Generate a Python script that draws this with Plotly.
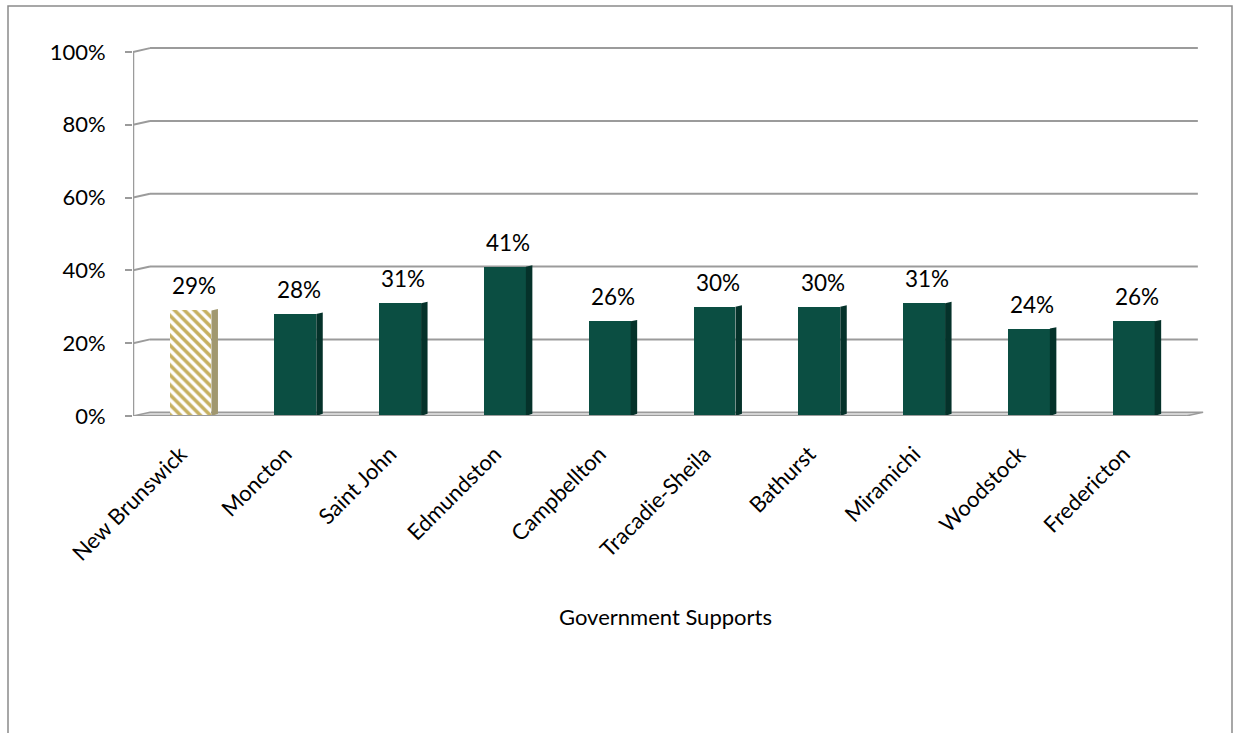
import plotly.graph_objects as go

# Share of population receiving government supports, by region
regions = ["New Brunswick", "Moncton", "Saint John", "Edmundston", "Campbellton",
           "Tracadie-Sheila", "Bathurst", "Miramichi", "Woodstock", "Fredericton"]
shares = [0.29, 0.28, 0.31, 0.41, 0.26, 0.30, 0.30, 0.31, 0.24, 0.26]
y_ticks = [0, 0.2, 0.4, 0.6, 0.8, 1.0]
y_tick_labels = ["0%", "20%", "40%", "60%", "80%", "100%"]
axis_title = "Government Supports"

# Layout geometry (pixels)
W, H = 1241, 733
PL, PR, PB = 133, 1205, 416
PX_PER_UNIT_Y = 364           # pixels for 100 %
Y_TOP = 1.03                  # head-room so the back 100 % line is not clipped
PT = PB - PX_PER_UNIT_Y * Y_TOP
UNIT = 104.8                  # pixels per category
X0 = -(190.5 - PL) / UNIT     # left edge of the x range
X1 = X0 + (PR - PL) / UNIT
BAR_W = 0.40
SIDE_W = 6.5 / UNIT
DEPTH_X = 17 / UNIT
DEPTH_Y = 3.8 / PX_PER_UNIT_Y
LABEL_SHIFT = 10 / UNIT       # rotated labels end slightly left of the bar centre

FONT = "Lato, Calibri, Carlito, sans-serif"
GREEN = "#0b4e42"
GREEN_SIDE = "#05322a"
TAN = "#c6b060"
TAN_SIDE = "#a19870"
GRID = "#9b9b9b"

xs = list(range(len(regions)))

def px(x):
    return (x - PL) / (PR - PL)

def py(y):
    return (PB - y) / (PB - PT)

fig = go.Figure()

# Front faces
fig.add_trace(go.Bar(
    x=[xs[0]], y=[shares[0]], width=BAR_W,
    marker=dict(color="white", line=dict(width=0),
                pattern=dict(shape="\\", fgcolor=TAN, bgcolor="white",
                             size=7, solidity=0.5, fillmode="replace")),
    hoverinfo="skip", showlegend=False))
fig.add_trace(go.Bar(
    x=xs[1:], y=shares[1:], width=BAR_W,
    marker=dict(color=GREEN, line=dict(width=0)),
    hoverinfo="skip", showlegend=False))

# Right-hand side faces give the bars depth
for i, (x, v) in enumerate(zip(xs, shares)):
    xr = x + BAR_W / 2
    fig.add_trace(go.Scatter(
        x=[xr, xr + SIDE_W, xr + SIDE_W, xr, xr],
        y=[0, 0.006, v + 0.004, v, 0],
        mode="lines", fill="toself",
        fillcolor=TAN_SIDE if i == 0 else GREEN_SIDE,
        line=dict(width=0), hoverinfo="skip", showlegend=False))

shapes = []
# Back-wall gridlines with the short slanted link to the axis
for t in y_ticks[1:]:
    shapes.append(dict(type="line", xref="x", yref="y", layer="below",
                       x0=X0, y0=t, x1=X0 + DEPTH_X, y1=t + DEPTH_Y,
                       line=dict(color=GRID, width=2)))
    shapes.append(dict(type="line", xref="x", yref="y", layer="below",
                       x0=X0 + DEPTH_X, y0=t + DEPTH_Y, x1=9.45 + DEPTH_X, y1=t + DEPTH_Y,
                       line=dict(color=GRID, width=2)))
# Floor
shapes.append(dict(type="path", xref="x", yref="y", layer="below",
                   path=f"M {X0},0 L 9.5,0 L {9.5 + DEPTH_X},{DEPTH_Y} L {X0 + DEPTH_X},{DEPTH_Y} Z",
                   fillcolor="#d4d4d4", line=dict(color=GRID, width=1.5)))
shapes.append(dict(type="line", xref="x", yref="y", layer="above",
                   x0=X0, y0=0, x1=9.5, y1=0,
                   line=dict(color=GRID, width=2)))
# Left axis line (0 % to 100 %)
shapes.append(dict(type="line", xref="x", yref="y", layer="above",
                   x0=X0, y0=0, x1=X0, y1=1.0,
                   line=dict(color=GRID, width=2.5)))
# Outer chart frame
shapes.append(dict(type="rect", xref="paper", yref="paper",
                   x0=px(8), y0=py(6), x1=px(1232), y1=py(760),
                   line=dict(color="#8a8a8a", width=1.5)))

annotations = []
for x, v in zip(xs, shares):
    annotations.append(dict(x=x + SIDE_W / 2, y=v, xref="x", yref="y",
                            text=f"{round(v * 100)}%", showarrow=False,
                            yanchor="bottom", yshift=9,
                            font=dict(family=FONT, size=22.5, color="black")))
annotations.append(dict(x=px(665), y=py(616), xref="paper", yref="paper",
                        xanchor="center", yanchor="middle",
                        text=axis_title, showarrow=False,
                        font=dict(family=FONT, size=22, color="black")))

fig.update_layout(
    width=W, height=H,
    margin=dict(l=PL, r=W - PR, t=PT, b=H - PB, pad=0),
    paper_bgcolor="white", plot_bgcolor="white",
    bargap=0, barmode="overlay",
    shapes=shapes, annotations=annotations,
    font=dict(family=FONT, size=22, color="black"),
    xaxis=dict(range=[X0, X1], tickmode="array",
               tickvals=[x - LABEL_SHIFT for x in xs], ticktext=regions,
               tickangle=-45, showgrid=False, zeroline=False, showline=False,
               ticks="", ticklabelstandoff=20, tickfont=dict(family=FONT, size=22),
               fixedrange=True),
    yaxis=dict(range=[0, Y_TOP], tickmode="array", tickvals=y_ticks, ticktext=y_tick_labels,
               showgrid=False, zeroline=False, showline=False,
               ticks="outside", ticklen=7, tickwidth=2, tickcolor=GRID,
               ticklabelstandoff=15, tickfont=dict(family=FONT, size=22),
               fixedrange=True),
)

fig.write_html("out.html")
